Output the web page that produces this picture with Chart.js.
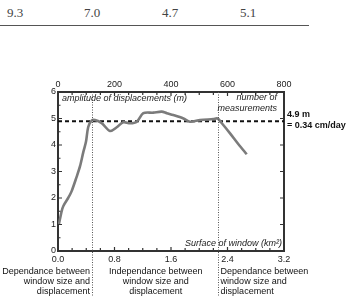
<!DOCTYPE html>
<html>
<head>
<meta charset="utf-8">
<script src="https://cdn.jsdelivr.net/npm/chart.js@4/dist/chart.umd.min.js"></script>
<style>
  html, body { margin: 0; padding: 0; background: #fff; }
  #wrap { position: relative; width: 351px; height: 296px; overflow: hidden; }
  #table-row { position: absolute; left: 0; top: 0; width: 309px; height: 25px; border-bottom: 1.5px solid #555; }
  #table-row span { position: absolute; top: 5px; font: 13px "Liberation Serif", serif; color: #444; transform: translateX(-50%); }
  canvas { position: absolute; left: 0; top: 0; }
</style>
</head>
<body>
<div id="wrap">
  <div id="table-row"></div>
  <canvas id="chart" width="351" height="296"></canvas>
</div>
<script>
const tableValues = ["9.3", "7.0", "4.7", "5.1"];
const tableCentres = [15, 92, 170, 248];

// number of measurements (top axis) vs amplitude of displacements (m)
const measurements = [3, 13, 19, 36, 48, 66, 78, 90, 99, 107, 119, 131, 155, 184, 208, 231, 255, 279, 302, 337, 367, 385, 408, 444, 467, 503, 550, 565, 580, 609, 638, 668];
const amplitude = [1.0, 1.5, 1.7, 2.0, 2.25, 2.8, 3.2, 3.75, 4.12, 4.68, 4.92, 4.94, 4.82, 4.53, 4.67, 4.86, 4.82, 4.88, 5.2, 5.22, 5.26, 5.2, 5.13, 5.0, 4.88, 4.94, 4.98, 5.0, 4.82, 4.44, 4.04, 3.65];

const refLevel = 4.9;
const refLabel = ["4.9 m", "= 0.34 cm/day"];
const regimeBounds = [0.48, 2.26]; // km², on the bottom axis
const regimeText = [
  ["Dependance between", "window size and", "displacement"],
  ["Independance between", "window size and", "displacement"],
  ["Dependance between", "window size and", "displacement"],
];

const row = document.getElementById("table-row");
tableValues.forEach((v, i) => {
  const s = document.createElement("span");
  s.textContent = v;
  s.style.left = tableCentres[i] + "px";
  row.appendChild(s);
});

const AXIS = "#333";
const FONT = "Liberation Sans, Arial, sans-serif";

const extras = {
  id: "extras",
  afterDatasetsDraw(chart) {
    const { ctx, chartArea: a, scales } = chart;
    ctx.save();
    // inward tick marks
    ctx.strokeStyle = AXIS;
    ctx.lineWidth = 1.2;
    ctx.beginPath();
    for (let v = 0; v <= 6; v += 0.5) {
      const y = scales.y.getPixelForValue(v);
      const len = v % 1 === 0 ? 4 : 2.5;
      ctx.moveTo(a.left, y); ctx.lineTo(a.left + len, y);
      if (v % 1 === 0) { ctx.moveTo(a.right, y); ctx.lineTo(a.right - 4, y); }
    }
    for (let v = 0; v <= 800; v += 50) {
      const x = scales.x.getPixelForValue(v);
      const len = v % 200 === 0 ? 4 : 3;
      ctx.moveTo(x, a.top); ctx.lineTo(x, a.top + len);
    }
    for (let i = 0; i <= 16; i++) {
      const x = scales.xb.getPixelForValue(i * 0.2);
      const len = i % 4 === 0 ? 4 : 3;
      ctx.moveTo(x, a.bottom); ctx.lineTo(x, a.bottom - len);
    }
    ctx.stroke();

    // regime boundaries
    ctx.strokeStyle = "#555";
    ctx.lineWidth = 1;
    ctx.setLineDash([1, 1.5]);
    ctx.beginPath();
    regimeBounds.forEach(b => {
      const x = Math.round(scales.xb.getPixelForValue(b)) + 0.5;
      ctx.moveTo(x, a.top); ctx.lineTo(x, chart.height);
    });
    ctx.stroke();
    ctx.setLineDash([]);

    // inner labels
    ctx.fillStyle = "#222";
    ctx.font = "italic 9px " + FONT;
    ctx.textBaseline = "middle";
    ctx.textAlign = "left";
    ctx.fillText("amplitude of displacements (m)", a.left + 4, a.top + 6);
    ctx.textAlign = "right";
    ctx.fillText("number of", a.right - 7, a.top + 5);
    ctx.fillText("measurements", a.right - 7, a.top + 16);
    ctx.fillText("Surface of window (km²)", a.right - 2, a.bottom - 8);

    // reference level label
    ctx.font = "bold 9px " + FONT;
    ctx.textAlign = "left";
    ctx.fillStyle = "#111";
    const yRef = scales.y.getPixelForValue(refLevel);
    ctx.fillText(refLabel[0], a.right + 3, yRef - 7);
    ctx.fillText(refLabel[1], a.right + 3, yRef + 4);

    // regime captions
    ctx.font = "9px " + FONT;
    const x1 = scales.xb.getPixelForValue(regimeBounds[0]);
    const x2 = scales.xb.getPixelForValue(regimeBounds[1]);
    const lineY = [272, 282, 292];
    regimeText.forEach((lines, i) => {
      lines.forEach((t, j) => {
        if (i === 0) { ctx.textAlign = "right"; ctx.fillText(t, x1 - 2, lineY[j]); }
        else if (i === 1) { ctx.textAlign = "center"; ctx.fillText(t, (x1 + x2) / 2 + 1, lineY[j]); }
        else { ctx.textAlign = "left"; ctx.fillText(t, x2 + 3, lineY[j]); }
      });
    });
    ctx.restore();
  },
};

const tickFont = { family: FONT, size: 9 };
const noGrid = { display: false, drawTicks: false, tickLength: 0 };

new Chart(document.getElementById("chart"), {
  type: "line",
  data: {
    datasets: [
      {
        data: measurements.map((m, i) => ({ x: m, y: amplitude[i] })),
        borderColor: "#7b7b7b",
        borderWidth: 2.6,
        pointRadius: 0,
        tension: 0.3,
        xAxisID: "x",
        yAxisID: "y",
      },
      {
        data: [{ x: 0, y: refLevel }, { x: 800, y: refLevel }],
        borderColor: "#111",
        borderWidth: 2,
        borderDash: [4, 3],
        pointRadius: 0,
        xAxisID: "x",
        yAxisID: "y",
      },
    ],
  },
  options: {
    responsive: false,
    animation: false,
    events: [],
    layout: { padding: 0 },
    plugins: { legend: { display: false }, tooltip: { enabled: false } },
    scales: {
      x: {
        type: "linear", position: "top", min: 0, max: 800,
        grid: noGrid,
        border: { color: AXIS, width: 2 },
        ticks: { stepSize: 200, padding: 2, font: tickFont, color: "#222", maxRotation: 0, autoSkip: false },
        afterFit: s => { s.height = 92; },
      },
      xb: {
        type: "linear", position: "bottom", min: 0, max: 3.2,
        grid: noGrid,
        border: { color: AXIS, width: 2 },
        ticks: { stepSize: 0.8, padding: 3, font: tickFont, color: "#222", maxRotation: 0, autoSkip: false, callback: v => v.toFixed(1) },
        afterFit: s => { s.height = 45; },
      },
      y: {
        position: "left", min: 0, max: 6,
        grid: noGrid,
        border: { color: AXIS, width: 2 },
        ticks: { stepSize: 1, padding: 2, font: tickFont, color: "#222" },
        afterFit: s => { s.width = 58; },
      },
      yr: {
        position: "right", min: 0, max: 6,
        grid: noGrid,
        border: { color: AXIS, width: 2 },
        ticks: { display: false },
        afterFit: s => { s.width = 67; },
      },
    },
  },
  plugins: [extras],
});
</script>
</body>
</html>
